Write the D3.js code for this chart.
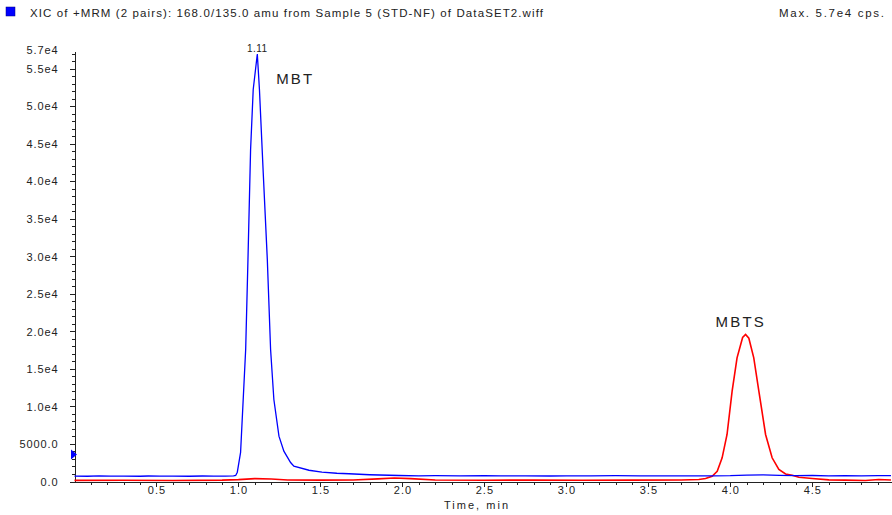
<!DOCTYPE html>
<html>
<head>
<meta charset="utf-8">
<script src="https://cdn.jsdelivr.net/npm/d3@7"></script>
<style>
  body { margin: 0; background: #fff; }
  text { font-family: "Liberation Sans", Arial, sans-serif; fill: #222; }
  .axis path, .axis line { stroke: #222; shape-rendering: crispEdges; }
</style>
</head>
<body>
<div id="chart"></div>
<script>
// XIC traces (time in min, intensity in cps)
var blueTime = [0.00, 0.08, 0.15, 0.22, 0.30, 0.40, 0.45, 0.52, 0.60, 0.70, 0.78, 0.85, 0.92, 0.97,
  0.983, 0.993, 1.013, 1.044, 1.058, 1.074, 1.090, 1.115, 1.128, 1.151, 1.176, 1.196, 1.216, 1.247,
  1.277, 1.318, 1.338, 1.43, 1.509, 1.60, 1.674, 1.80, 1.979, 2.1, 2.2, 2.35, 2.5, 2.6, 2.75, 2.9,
  3.0, 3.15, 3.3, 3.45, 3.6, 3.75, 3.9, 4.0, 4.1, 4.2, 4.3, 4.4, 4.5, 4.6, 4.7, 4.8, 4.9, 4.98];
var blueValue = [720, 700, 740, 710, 720, 700, 730, 710, 720, 700, 730, 710, 720, 740,
  800, 1240, 3870, 17600, 29600, 44270, 52270, 57000, 52270, 41200, 29600, 17600, 10930, 6040,
  4040, 2530, 2040, 1500, 1240, 1100, 1030, 900, 800, 760, 780, 740, 770, 740, 760, 730,
  760, 740, 770, 740, 760, 740, 760, 780, 850, 880, 820, 770, 800, 760, 780, 750, 790, 770];

var redTime = [0.00, 0.3, 0.6, 0.9, 1.0, 1.1, 1.2, 1.3, 1.5, 1.7, 1.85, 1.95, 2.05, 2.2, 2.5, 2.8,
  3.1, 3.4, 3.7, 3.808, 3.849, 3.889, 3.92, 3.95, 3.98, 4.011, 4.041, 4.075, 4.093, 4.113, 4.143,
  4.174, 4.215, 4.255, 4.296, 4.337, 4.377, 4.418, 4.499, 4.601, 4.7, 4.824, 4.905, 4.98];
var redValue = [150, 170, 140, 180, 250, 380, 330, 200, 180, 200, 350, 470, 380, 200, 170, 190,
  160, 180, 200, 270, 400, 700, 1370, 3160, 6270, 12040, 16490, 19200, 19600, 19100, 16490,
  12040, 6270, 3160, 1600, 1000, 840, 570, 400, 220, 180, 130, 270, 200];

var xTicks = [0.5, 1.0, 1.5, 2.0, 2.5, 3.0, 3.5, 4.0, 4.5];
var yTicks = [0, 5000, 10000, 15000, 20000, 25000, 30000, 35000, 40000, 45000, 50000, 55000];
var yTickLabels = ["0.0", "5000.0", "1.0e4", "1.5e4", "2.0e4", "2.5e4", "3.0e4", "3.5e4", "4.0e4", "4.5e4", "5.0e4", "5.5e4"];
var peakLabels = [{text: "MBT", t: 1.23, v: 53000}, {text: "MBTS", t: 3.91, v: 20600}];

var titleText = "XIC of +MRM (2 pairs): 168.0/135.0 amu from Sample 5 (STD-NF) of DataSET2.wiff";
var maxText = "Max. 5.7e4 cps.";

var width = 892, height = 515;
var svg = d3.select("#chart").append("svg")
    .attr("width", width)
    .attr("height", height);

var x = d3.scaleLinear().domain([0, 4.98]).range([74.5, 891]);
var y = d3.scaleLinear().domain([0, 57300]).range([481.5, 51.7]);

// header
svg.append("rect").attr("x", 6).attr("y", 7).attr("width", 9).attr("height", 9)
    .attr("fill", "#0000ff").attr("stroke", "#000080").attr("stroke-width", 0.5);
svg.append("text").attr("x", 30).attr("y", 17)
    .attr("textLength", 513).attr("lengthAdjust", "spacing")
    .style("font-size", "11.5px")
    .text(titleText);
svg.append("text").attr("x", 779).attr("y", 17)
    .attr("textLength", 105).attr("lengthAdjust", "spacing")
    .style("font-size", "11.5px")
    .text(maxText);

// x axis: minor ticks every 0.1, labels every 0.5
var xMinor = d3.range(1, 50).map(function(i) { return i / 10; });
svg.append("g")
    .attr("class", "axis")
    .attr("transform", "translate(0," + 481.5 + ")")
    .call(d3.axisBottom(x).tickValues(xMinor).tickSize(3).tickFormat("").tickSizeOuter(0));
var xAxis = svg.append("g")
    .attr("class", "axis x")
    .attr("transform", "translate(0," + 481.5 + ")")
    .call(d3.axisBottom(x).tickValues(xTicks).tickSize(5).tickSizeOuter(0)
      .tickFormat(function(d) { return d.toFixed(1); }));
xAxis.selectAll("text").attr("dy", "0.4em")
    .style("font-size", "11px").style("letter-spacing", "1px").attr("fill", "#222");
svg.append("text").attr("x", 476).attr("y", 509)
    .attr("text-anchor", "middle")
    .attr("textLength", 64).attr("lengthAdjust", "spacing")
    .style("font-size", "11px")
    .text("Time, min");

// y axis: minor ticks every 1000
var yMinor = d3.range(1, 58).map(function(i) { return i * 1000; });
svg.append("g")
    .attr("class", "axis")
    .attr("transform", "translate(" + 74.5 + ",0)")
    .call(d3.axisLeft(y).tickValues(yMinor).tickSize(3).tickFormat("").tickSizeOuter(0));
var yAxis = svg.append("g")
    .attr("class", "axis y")
    .attr("transform", "translate(" + 74.5 + ",0)")
    .call(d3.axisLeft(y).tickValues(yTicks).tickSize(5).tickSizeOuter(0)
      .tickFormat(function(d, i) { return yTickLabels[i]; }));
yAxis.selectAll("text").attr("x", -16)
    .style("font-size", "11px").style("letter-spacing", "0.9px").attr("fill", "#222");
// max label at top of the axis
svg.append("text").attr("x", 58.5).attr("y", y(57000) + 0.5)
    .attr("text-anchor", "end")
    .style("font-size", "11px").style("letter-spacing", "0.9px")
    .text("5.7e4");

// threshold marker on the y axis
svg.append("path")
    .attr("d", "M" + 71 + "," + (y(3600) - 5) + "L" + 77 + "," + y(3600) + "L" + 71 + "," + (y(3600) + 5) + "Z")
    .attr("fill", "#0000ff");

var line = d3.line()
    .x(function(d) { return x(d[0]); })
    .y(function(d) { return y(d[1]); });

var red = redTime.map(function(t, i) { return [t, redValue[i]]; });
var blue = blueTime.map(function(t, i) { return [t, blueValue[i]]; });

svg.append("path").datum(red)
    .attr("d", line).attr("fill", "none")
    .attr("stroke", "#ff0000").attr("stroke-width", 1.6);
svg.append("path").datum(blue)
    .attr("d", line).attr("fill", "none")
    .attr("stroke", "#0000ff").attr("stroke-width", 1.3);

// apex retention time
svg.append("text").attr("x", x(1.115)).attr("y", y(57000) - 2)
    .attr("text-anchor", "middle")
    .style("font-size", "10px").style("letter-spacing", "0.5px")
    .text("1.11");

svg.selectAll(".peak").data(peakLabels).enter().append("text")
    .attr("class", "peak")
    .attr("x", function(d) { return x(d.t); })
    .attr("y", function(d) { return y(d.v); })
    .style("font-size", "15px").style("letter-spacing", "2.2px")
    .text(function(d) { return d.text; });
</script>
</body>
</html>
